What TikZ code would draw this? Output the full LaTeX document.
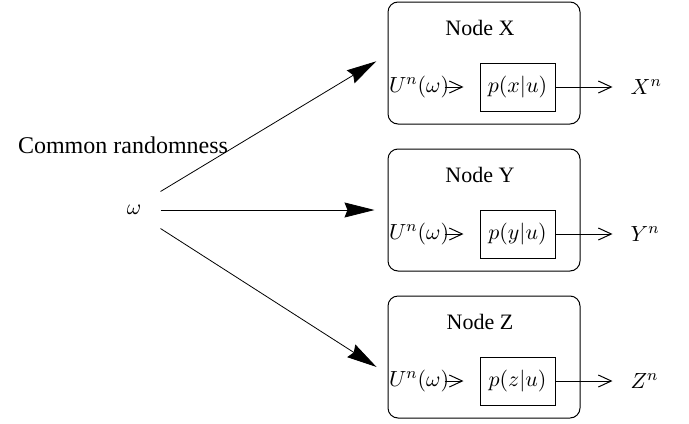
\documentclass[tikz,border=0pt]{standalone}
\usepackage{fontspec}
\setmainfont{Liberation Serif}
\usepackage{amsmath}
\usetikzlibrary{arrows.meta, positioning, calc}
\tikzset{
	nodebox/.style={rectangle, rounded corners=5pt, draw=black, minimum width=96pt, minimum height=61pt, inner sep=0pt},
	pbox/.style={rectangle, draw=black, minimum width=37.5pt, minimum height=24pt, inner sep=0pt, font=\fontsize{11}{13}\selectfont},
	boxtitle/.style={font=\rmfamily\fontsize{11}{13}\selectfont},
	mathlbl/.style={font=\fontsize{11}{13}\selectfont},
	bigarrow/.style={-{Stealth[length=15pt, width=7.5pt, inset=1.5pt]}, line width=0.4pt},
	chevron/.style={-{Straight Barb[length=6.5pt, width=6pt]}, line width=0.5pt},
}

\begin{document}
\begin{tikzpicture}[x=0.5pt, y=-0.5pt, line width=0.5pt]
	\useasboundingbox (0,0) rectangle (689,423);
	\node[font=\rmfamily\fontsize{12}{14}\selectfont] (cr) at (123,145) {Common randomness};
	\node[mathlbl, minimum width=26pt, minimum height=18pt, inner sep=0pt] (om) at (134,210) {$\omega$};
	% one box per receiving node
	\foreach \nm/\lc/\yc/\ang/\corner in {X/x/63/175/north east, Y/y/210/180/east, Z/z/357/190/south east} {
		\node[nodebox] (box\nm) at (484,\yc) {};
		\node[boxtitle] (title\nm) at ($(box\nm.north)+(-4,26)$) {Node \nm};
		\node[pbox] (p\nm) at ($(box\nm.center)+(33.5,24)$) {$p(\lc|u)$};
		\node[mathlbl, inner sep=0.5pt, anchor=west] (u\nm) at (box\nm.west |- p\nm.west) {$U^n(\omega)$};
		\node[mathlbl, anchor=west] (out\nm) at ($(p\nm.east)+(68,0)$) {$\nm^n$};
		\draw[chevron, shorten <=-3pt, shorten >=8pt] (u\nm.east) -- (p\nm.west);
		\draw[chevron, shorten >=5.5pt] (p\nm.east) -- (out\nm.west);
		\draw[bigarrow, shorten >=6.5pt] (om.\corner) -- (box\nm.\ang);
	}
\end{tikzpicture}
\end{document}
